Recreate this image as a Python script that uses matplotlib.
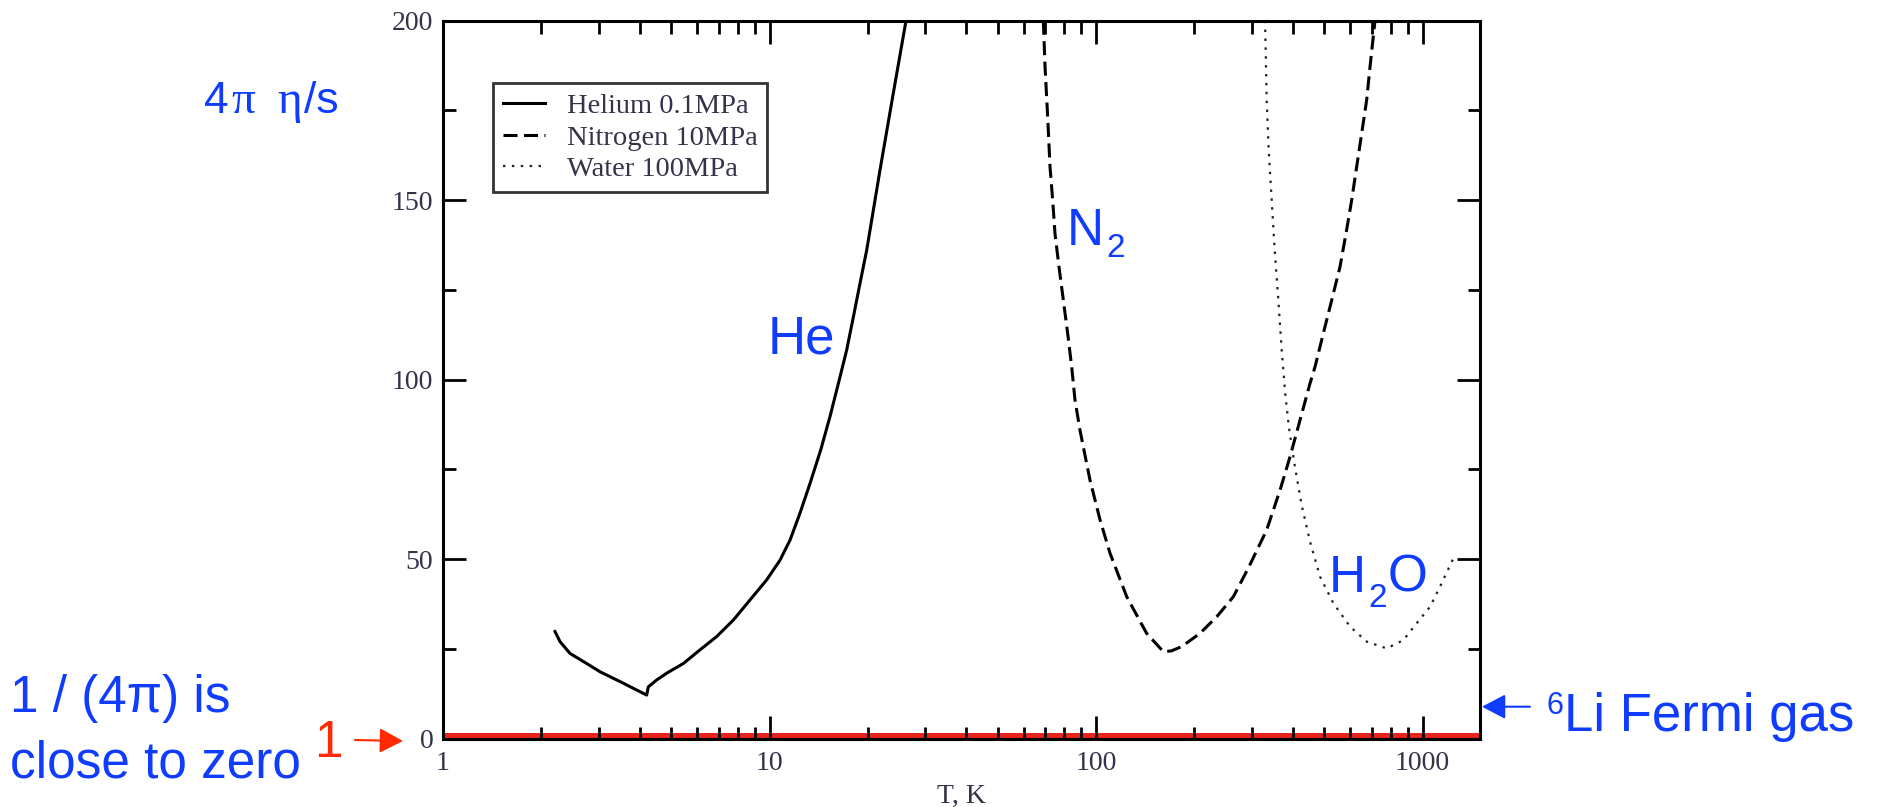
import matplotlib
matplotlib.use('Agg')
import matplotlib.pyplot as plt
from matplotlib.ticker import FixedLocator, LogLocator, NullFormatter, MultipleLocator

# 4*pi*eta/s against temperature for three fluids
he_T = [2.203, 2.282, 2.449, 2.754, 3.026, 3.567, 4.205, 4.255, 4.512, 4.843,
        5.447, 6.125, 6.889, 7.749, 8.715, 9.802, 10.77, 11.56, 12.40, 13.31,
        14.35, 15.32, 16.25, 17.23, 18.07, 18.93, 19.85, 21.80, 23.89, 26.19]
he_eta = [29.8, 27.0, 23.7, 20.9, 18.6, 15.4, 12.1, 14.4, 16.3, 18.2,
          20.9, 24.7, 28.4, 33.0, 38.6, 44.2, 49.7, 55.3, 62.8, 71.1,
          80.4, 89.7, 98.9, 108.2, 117.5, 126.8, 136.1, 158.4, 179.3, 200.0]

n2_T = [68.98, 69.81, 71.12, 72.30, 73.67, 74.88, 77.03, 79.43, 81.88, 84.23,
        86.23, 89.32, 95.85, 102.9, 110.4, 124.2, 142.9, 160.8, 170.0, 183.0,
        208.2, 234.2, 263.4, 292.8, 333.2, 366.1, 392.9, 421.5, 452.2, 468.7,
        496.9, 527.0, 558.8, 583.0, 606.8, 628.6, 651.2, 674.5, 690.5, 715.3]
n2_eta = [200.0, 187.1, 173.2, 159.3, 150.0, 140.7, 131.4, 122.1, 112.9, 103.6,
          94.3, 85.9, 72.0, 60.9, 51.6, 39.5, 29.3, 24.2, 24.4, 25.6,
          29.3, 33.9, 39.5, 47.5, 58.1, 69.2, 78.5, 88.7, 98.9, 103.6,
          112.9, 122.1, 131.4, 140.7, 150.0, 159.3, 168.6, 177.9, 187.1, 200.0]

h2o_T = [329.3, 330.9, 333.2, 338.0, 345.2, 352.6, 361.8, 370.5, 380.1, 390.1,
         406.9, 426.6, 452.2, 485.4, 533.3, 599.7, 674.5, 776.6, 873.5, 959.7,
         1054.3, 1131.3, 1243.0]
h2o_eta = [200.0, 191.8, 177.9, 163.9, 150.0, 136.1, 122.1, 108.2, 95.7, 86.5,
           75.6, 65.0, 54.9, 45.1, 37.7, 31.2, 27.0, 25.1, 27.4, 32.1,
           36.7, 42.3, 50.2]

# quantum bound 4*pi*eta/s = 1
kss_bound = 1.0

labels = ['Helium 0.1MPa', 'Nitrogen 10MPa', 'Water 100MPa']
x_ticks = [1, 10, 100, 1000]
x_ticklabels = ['1', '10', '100', '1000']
y_ticks = [0, 50, 100, 150, 200]
y_ticklabels = ['0', '50', '100', '150', '200']

W, H = 1881, 807
blue = '#0f3cff'
red = '#ff2a00'
sans = 'Liberation Sans'
serif = 'Liberation Serif'

plt.rcParams['font.family'] = serif

fig = plt.figure(figsize=(W / 100, H / 100), dpi=100)
ax = fig.add_axes([443 / W, 1 - 738.5 / H, (1480 - 443) / W, (738.5 - 20.7) / H])

ax.plot(he_T, he_eta, color='k', lw=2.2, label=labels[0])
ax.plot(n2_T, n2_eta, color='k', lw=2.2, dashes=(4.6, 2.1), label=labels[1])
ax.plot(h2o_T, h2o_eta, color='#222222', lw=1.6, dashes=(1.1, 2.9), label=labels[2])
ax.axhline(kss_bound, color='#e8231c', lw=3.6, zorder=1.5)

ax.set_xscale('log')
ax.set_xlim(1, 1500)
ax.set_ylim(0, 200)
ax.xaxis.set_major_locator(FixedLocator(x_ticks))
ax.set_xticklabels(x_ticklabels)
ax.xaxis.set_minor_locator(LogLocator(base=10, subs=range(2, 10)))
ax.xaxis.set_minor_formatter(NullFormatter())
ax.yaxis.set_major_locator(FixedLocator(y_ticks))
ax.set_yticklabels(y_ticklabels)
ax.yaxis.set_minor_locator(MultipleLocator(25))

ax.tick_params(which='both', direction='in', top=True, right=True, width=2,
               labelsize=20, labelcolor='#33334a')
ax.tick_params(which='major', length=16.5)
ax.tick_params(which='minor', length=9)
ax.tick_params(axis='y', pad=7)
ax.tick_params(axis='x', pad=9)
for s in ax.spines.values():
    s.set_linewidth(2.2)

ax.set_xlabel('T, K', fontsize=20, color='#33334a', labelpad=6)

leg = ax.legend(loc='upper left', bbox_to_anchor=((492.7 - 443) / 1037, (738.5 - 83.3) / 717.8),
                borderaxespad=0, fontsize=20.5, fancybox=False, frameon=True,
                handlelength=1.5, handletextpad=0.75, borderpad=0.35, labelspacing=0.2)
leg.get_frame().set_edgecolor('k')
leg.get_frame().set_linewidth(2)
for t in leg.get_texts():
    t.set_color('#33334a')


def put(px, py, s, size, color=blue, family=sans):
    fig.text(px / W, 1 - py / H, s, fontsize=size, color=color, family=family,
             ha='left', va='baseline')


# axis title, greek letters in serif
put(204, 113, '4', 32)
put(231, 113, 'π', 34, family=serif)
put(277, 113, 'η', 34, family=serif)
put(304, 113, '/s', 32)

put(10, 711.7, '1 / (4π) is', 37)
put(10, 778, 'close to zero', 37)
put(314, 757, '1', 37, red)
put(768, 353.3, 'He', 38)
put(1067, 245, 'N', 37)
put(1106, 257, '2', 24)
put(1329, 591.7, 'H', 37)
put(1368, 606.7, '2', 24)
put(1387.5, 591.7, 'O', 37)
put(1547, 713.5, '6', 22)
put(1564, 731, 'Li Fermi gas', 38)

# arrows pointing at the bound line and the right axis
ax.annotate('', xy=(403, H - 741), xycoords='figure pixels',
            xytext=(355, H - 740), textcoords='figure pixels',
            arrowprops=dict(arrowstyle='-|>,head_length=0.72,head_width=0.38',
                            mutation_scale=20, lw=1.5, color=red,
                            shrinkA=0, shrinkB=0))
ax.annotate('', xy=(1482, H - 706.7), xycoords='figure pixels',
            xytext=(1530, H - 706.7), textcoords='figure pixels',
            arrowprops=dict(arrowstyle='-|>,head_length=0.72,head_width=0.38',
                            mutation_scale=20, lw=1.5, color=blue,
                            shrinkA=0, shrinkB=0))

fig.savefig('out.png', dpi=100)
